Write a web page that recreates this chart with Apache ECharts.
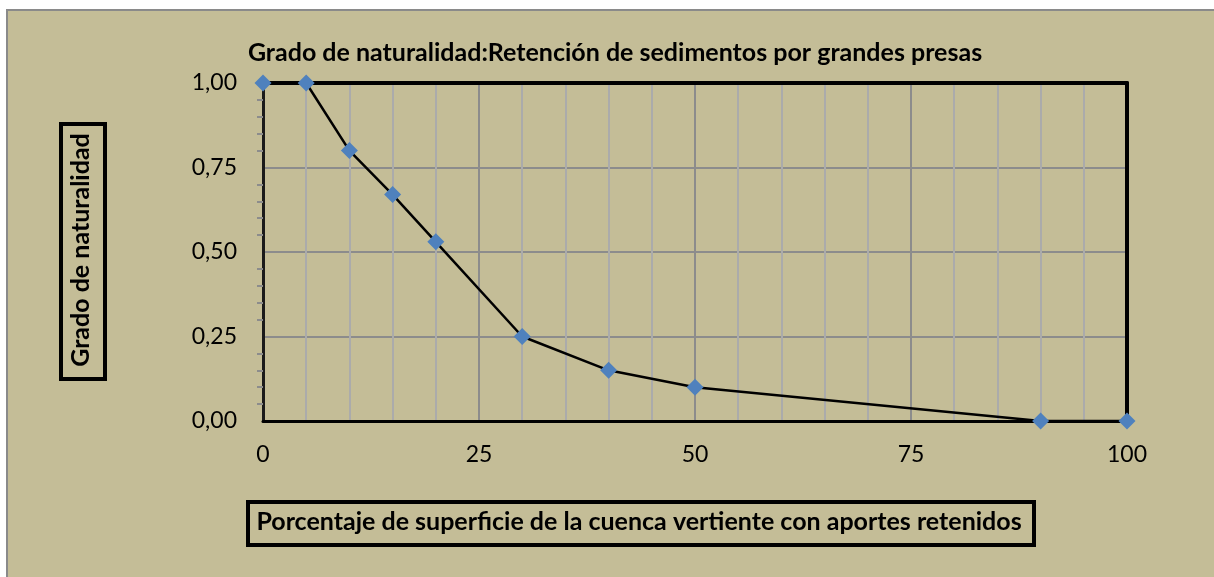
<!DOCTYPE html>
<html>
<head>
<meta charset="utf-8">
<script src="https://cdn.jsdelivr.net/npm/echarts@6/dist/echarts.min.js"></script>
<style>
  html, body { margin: 0; padding: 0; background: #fff; overflow: hidden; width: 1214px; height: 577px; }
  #frame {
    position: absolute; left: 6px; top: 9px; right: 0; bottom: 0;
    background: #C4BD97; border-left: 2px solid #8a8a8a; border-top: 2px solid #8a8a8a;
  }
  #chart { position: absolute; left: 0; top: 0; width: 1214px; height: 577px; }
</style>
</head>
<body>
<div id="frame"></div>
<div id="chart"></div>
<script>
// porcentaje de superficie con aportes retenidos
var xValues = [0, 5, 10, 15, 20, 30, 40, 50, 90, 100]
// grado de naturalidad
var yValues = [1.00, 1.00, 0.80, 0.67, 0.53, 0.25, 0.15, 0.10, 0.00, 0.00]
var xTicks = [0, 25, 50, 75, 100]
var yTicks = [0, 0.25, 0.5, 0.75, 1]

var titleText = 'Grado de naturalidad:Retención de sedimentos por grandes presas'
var xName = 'Porcentaje de superficie de la cuenca vertiente con aportes retenidos'
var yName = 'Grado de naturalidad'

var font = 'Lato, "Open Sans", sans-serif'

var points = xValues.map(function(x, i) { return [x, yValues[i]] })

var chart = echarts.init(document.getElementById('chart'))
var option = {
  animation: false,
  backgroundColor: 'transparent',
  title: {
    text: titleText,
    left: 610,
    top: 35,
    textAlign: 'center',
    textStyle: { fontFamily: font, fontWeight: 'bold', fontSize: 25, color: '#000' }
  },
  grid: {
    left: 263, right: 87, top: 83, bottom: 156
  },
  xAxis: [
    {
      type: 'value',
      min: xTicks[0], max: xTicks[xTicks.length - 1], interval: 25,
      axisLine: { show: true, onZero: false, lineStyle: { color: '#000', width: 3 } },
      axisTick: { show: false },
      axisLabel: { margin: 22, fontFamily: font, fontSize: 23, color: '#000' },
      splitLine: { show: true, lineStyle: { color: '#8c8c8c', width: 2 } },
      minorTick: { show: false, splitNumber: 5 },
      minorSplitLine: { show: true, lineStyle: { color: '#ababab', width: 2 } }
    },
    {
      // top border of the plot area
      type: 'value', position: 'top',
      min: xTicks[0], max: xTicks[xTicks.length - 1],
      axisLine: { show: true, onZero: false, lineStyle: { color: '#000', width: 4 } },
      axisTick: { show: false }, axisLabel: { show: false }, splitLine: { show: false }
    }
  ],
  yAxis: [
    {
      type: 'value',
      min: yTicks[0], max: yTicks[yTicks.length - 1], interval: 0.25,
      axisLine: { show: true, onZero: false, lineStyle: { color: '#1a1a1a', width: 3 } },
      axisTick: { show: false },
      minorTick: { show: true, splitNumber: 5, length: 6, lineStyle: { color: '#8c8c8c', width: 2 } },
      axisLabel: {
        margin: 26, fontFamily: font, fontSize: 23, color: '#000',
        formatter: function(v) { return v.toFixed(2).replace('.', ',') }
      },
      splitLine: { show: true, lineStyle: { color: '#8c8c8c', width: 2 } }
    },
    {
      // right border of the plot area
      type: 'value', position: 'right',
      min: yTicks[0], max: yTicks[yTicks.length - 1],
      axisLine: { show: true, onZero: false, lineStyle: { color: '#000', width: 4 } },
      axisTick: { show: false }, axisLabel: { show: false }, splitLine: { show: false }
    }
  ],
  graphic: [
    {
      type: 'rect', left: 246, top: 500,
      shape: { width: 786, height: 43 },
      style: { fill: 'transparent', stroke: '#000', lineWidth: 4 }
    },
    {
      type: 'text', x: 639, y: 522,
      style: {
        text: xName, fill: '#000', align: 'center', verticalAlign: 'middle',
        font: 'bold 25px ' + font
      }
    },
    {
      type: 'rect', left: 59, top: 122,
      shape: { width: 44, height: 255 },
      style: { fill: 'transparent', stroke: '#000', lineWidth: 4 }
    },
    {
      type: 'text', x: 81, y: 250, rotation: Math.PI / 2,
      style: {
        text: yName, fill: '#000', align: 'center', verticalAlign: 'middle',
        font: 'bold 25px ' + font
      }
    }
  ],
  series: [
    {
      type: 'line',
      data: points,
      clip: false,
      symbol: 'diamond',
      symbolSize: 17,
      itemStyle: { color: '#4F81BD' },
      lineStyle: { color: '#000', width: 2.5 },
      z: 5
    }
  ]
}
chart.setOption(option)
</script>
</body>
</html>
